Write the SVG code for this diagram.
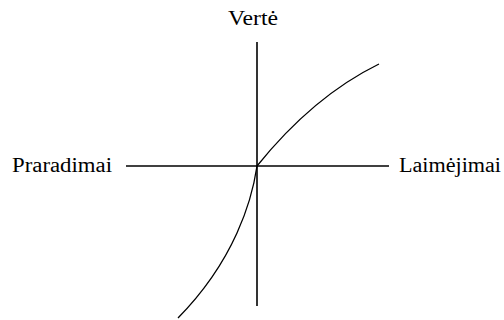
<svg xmlns="http://www.w3.org/2000/svg" width="504" height="320" viewBox="0 0 504 320">
<style>
.t{font-family:'Liberation Serif','DejaVu Serif Condensed','DejaVu Serif',serif;font-stretch:condensed;font-size:20px;fill:#000}
.ax{stroke:#000;stroke-width:1.6;fill:none}
.cv{stroke:#000;stroke-width:1.3;fill:none}
</style>
<rect width="504" height="320" fill="#fff"/>
<g id="axes">
<line class="ax" x1="257" y1="42" x2="257" y2="306"/>
<line class="ax" x1="126" y1="166" x2="389" y2="166"/>
</g>
<g id="curve">
<path class="cv" d="M257,166 C290,125 330,88 379,64"/>
<path class="cv" d="M257,166 C252,200 235,260 178,318"/>
</g>
<g id="labels">
<text class="t" x="228" y="25" textLength="50" lengthAdjust="spacingAndGlyphs">Vertė</text>
<text class="t" x="12" y="172" textLength="100" lengthAdjust="spacingAndGlyphs">Praradimai</text>
<text class="t" x="399" y="172" textLength="102" lengthAdjust="spacingAndGlyphs">Laimėjimai</text>
</g>
</svg>
